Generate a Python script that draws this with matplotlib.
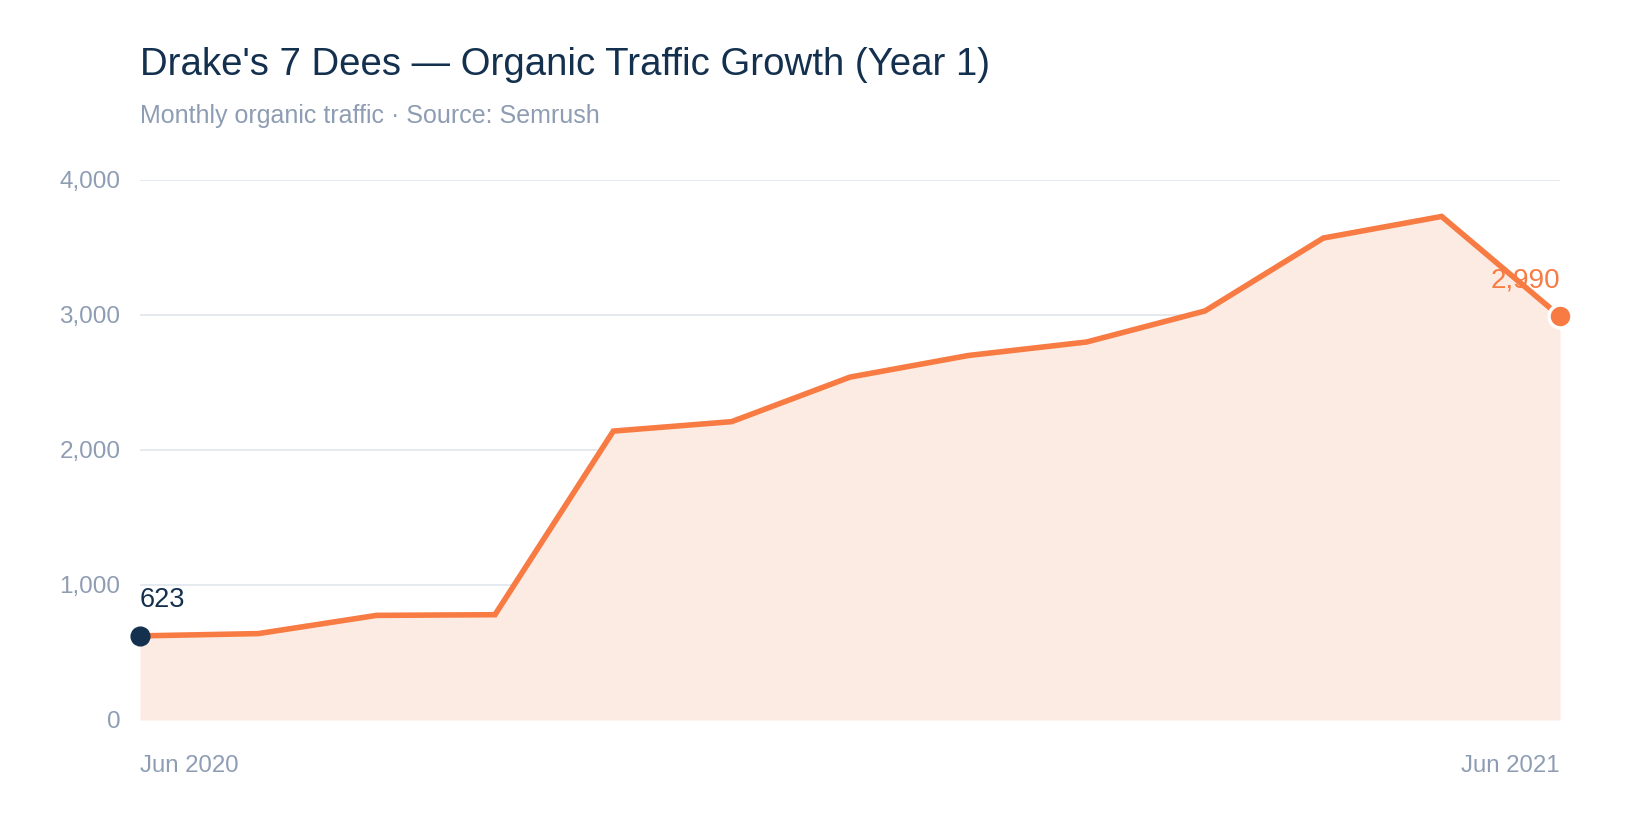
import matplotlib
matplotlib.use("Agg")
import matplotlib.pyplot as plt
import numpy as np

plt.rcParams['font.family'] = ['Liberation Sans', 'DejaVu Sans']

months = ["Jun 2020", "Jul 2020", "Aug 2020", "Sep 2020", "Oct 2020", "Nov 2020",
          "Dec 2020", "Jan 2021", "Feb 2021", "Mar 2021", "Apr 2021", "May 2021", "Jun 2021"]
traffic = [623, 640, 775, 780, 2140, 2210, 2540, 2700, 2800, 3030, 3570, 3730, 2990]
y_ticks = [0, 1000, 2000, 3000, 4000]
x_labels = ["Jun 2020", "Jun 2021"]

ORANGE = "#f77b42"
FILL = "#fcebe2"
NAVY = "#14304f"
GRAY = "#8e9db3"
GRID = "#e3e8ef"

fig = plt.figure(figsize=(16.4, 8.4), dpi=100)
ax = fig.add_axes([140/1640, 1-720/840, 1420/1640, 540/840])

x = np.arange(len(traffic))
ax.fill_between(x, 0, traffic, color=FILL, lw=0, zorder=1)
ax.plot(x, traffic, color=ORANGE, lw=4.0, solid_joinstyle='miter', zorder=3)

ax.set_xlim(0, len(traffic) - 1)
ax.set_ylim(0, 4000)
ax.set_yticks(y_ticks)
ax.set_yticklabels([f"{v:,}" for v in y_ticks])
ax.tick_params(axis='y', length=0, pad=14, labelsize=17.5, labelcolor=GRAY)
ax.set_xticks([])
for s in ax.spines.values():
    s.set_visible(False)
for v in y_ticks:
    ax.axhline(v, color=GRID, lw=1.3, zorder=0.5)

# x labels
ax.text(0, -0.085, x_labels[0], transform=ax.transAxes,
        ha='left', va='center', fontsize=17.3, color=GRAY)
ax.text(1, -0.085, x_labels[1], transform=ax.transAxes,
        ha='right', va='center', fontsize=17.3, color=GRAY)

# endpoints
ax.plot([x[0]], [traffic[0]], 'o', ms=13.5, color=NAVY, zorder=5, clip_on=False)
ax.plot([x[-1]], [traffic[-1]], 'o', ms=16.5, color=ORANGE, mec='white', mew=2.5,
        zorder=5, clip_on=False)
ax.annotate(f"{traffic[0]:,}", (x[0], traffic[0]), xytext=(0, 26), textcoords='offset points',
            ha='left', va='center', fontsize=19.5, color=NAVY, zorder=6)
ax.annotate(f"{traffic[-1]:,}", (x[-1], traffic[-1]), xytext=(0, 26), textcoords='offset points',
            ha='right', va='center', fontsize=20, color=ORANGE, zorder=6)

fig.text(140/1640, 1-65/840, "Drake's 7 Dees \u2014 Organic Traffic Growth (Year 1)",
         ha='left', va='center', fontsize=27.6, color=NAVY)
fig.text(140/1640, 1-116/840, "Monthly organic traffic \u00b7 Source: Semrush",
         ha='left', va='center', fontsize=18, color=GRAY)

fig.savefig("out.png", dpi=100, facecolor='white')
